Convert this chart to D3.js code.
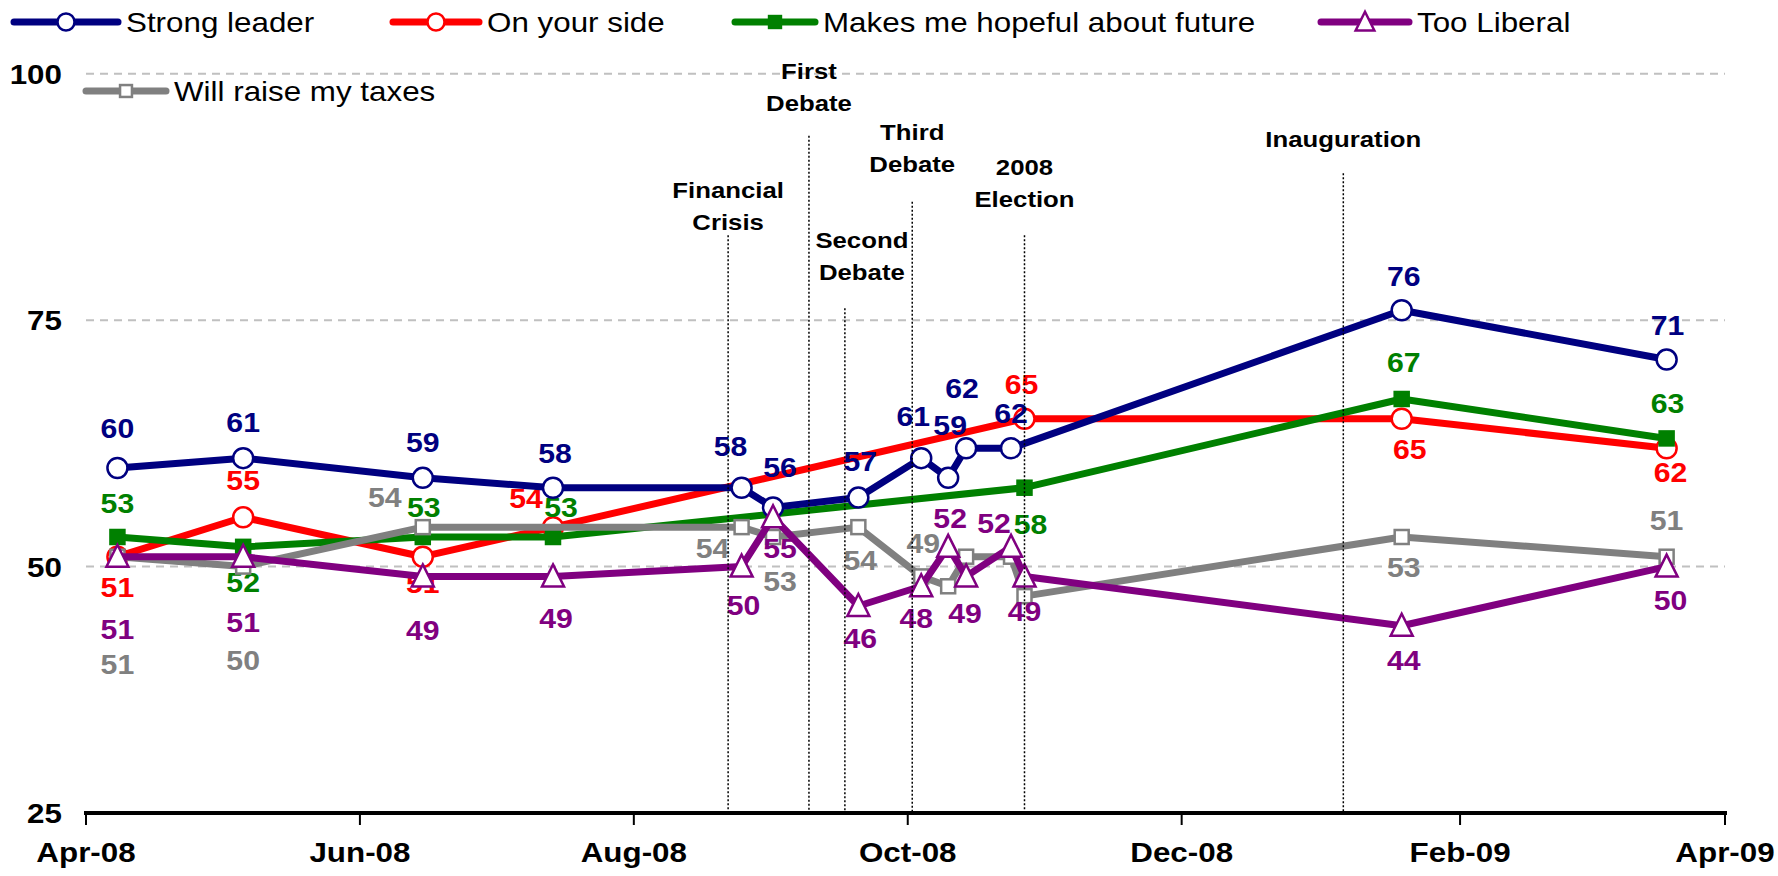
<!DOCTYPE html>
<html><head><meta charset="utf-8">
<script src="https://cdn.jsdelivr.net/npm/d3@7"></script>
<style>body{margin:0;background:#fff} svg{display:block}</style>
</head><body><svg id="chart" width="1778" height="876"></svg>
<script>
// ---------- DATA ----------
const dates = ["2008-04-08","2008-05-06","2008-06-15","2008-07-14","2008-08-25","2008-09-01","2008-09-20",
               "2008-10-04","2008-10-10","2008-10-14","2008-10-24","2008-10-27","2009-01-19","2009-03-19"];
const strongLeader = [60,61,59,58,58,56,57,61,59,62,62,null,76,71];
const onYourSide   = [51,55,51,54,null,null,null,null,null,null,null,65,65,62];
const hopeful      = [53,52,53,53,null,null,null,null,null,null,null,58,67,63];
const tooLiberal   = [51,51,49,49,50,55,46,48,52,49,52,49,44,50];
const raiseTaxes   = [51,50,54,null,54,53,54,49,48,51,51,47,53,51];
const seriesNames  = ["Strong leader","On your side","Makes me hopeful about future","Too Liberal","Will raise my taxes"];
const yTicks = [25,50,75,100];
const xTickDates  = ["2008-04-01","2008-06-01","2008-08-01","2008-10-01","2008-12-01","2009-02-01","2009-04-01"];
const xTickLabels = ["Apr-08","Jun-08","Aug-08","Oct-08","Dec-08","Feb-09","Apr-09"];
const eventNames = [["Financial","Crisis"],["First","Debate"],["Second","Debate"],["Third","Debate"],["2008","Election"],["Inauguration"]];
const eventDates = ["2008-08-22","2008-09-09","2008-09-17","2008-10-02","2008-10-27","2009-01-06"];
const eventTops  = [83.6,93.7,76.2,87.0,83.6,89.9];   // value where each dotted line starts
const eventLabelAt = [84.1,96.2,79.1,90.0,86.5,92.55]; // value of last label line baseline

// ---------- LAYOUT / STYLE ----------
const parse = d3.timeParse("%Y-%m-%d");
const W = 1778, H = 876;
const x = d3.scaleTime().domain([parse("2008-04-01"), parse("2009-04-01")]).range([86, 1725]);
const y = d3.scaleLinear().domain([25, 100]).range([813, 73.7]);
const SX = 1.12; // horizontal stretch of the original rendering
const FONT = "'Liberation Sans', Arial, sans-serif";

// label offsets (dx, dy of label centre from the point), kept apart from data
const lblNavy   = [[0,-40],[0,-36],[0,-36],[2,-35],[-11,-42],[7,-40],[2,-37],[-8,-42],[2,-53],[-4,-60],[0,-35],null,[2,-34],[1,-35]];
const lblRed    = [[0,30],[0,-37],[0,26],[-27,-29],null,null,null,null,null,null,null,[-3,-35],[8,30],[4,24]];
const lblGreen  = [[0,-34],[0,35],[1,-30],[8,-30],null,null,null,null,null,null,null,[6,36],[2,-37],[1,-35]];
const lblPurple = [[0,72],[0,65],[0,54],[3,42],[2,38],[7,31],[2,32],[-5,32],[2,-29],[-1,37],[-17,-24],[0,35],[2,34],[4,33]];
const lblGray   = [[0,107],[0,93],[-38,-30],null,[-29,21],[7,44],[2,33],[2,-33],null,null,null,null,[2,30],[0,-37]];

const series = [
  {name: seriesNames[0], values: strongLeader, color: "#000080", marker: "circle",   lbl: lblNavy},
  {name: seriesNames[1], values: onYourSide,   color: "#ff0000", marker: "circle",   lbl: lblRed},
  {name: seriesNames[2], values: hopeful,      color: "#008000", marker: "fsquare",  lbl: lblGreen},
  {name: seriesNames[3], values: tooLiberal,   color: "#800080", marker: "triangle", lbl: lblPurple},
  {name: seriesNames[4], values: raiseTaxes,   color: "#808080", marker: "square",   lbl: lblGray}
];
const drawOrder = [1, 2, 4, 0, 3];

const svg = d3.select("#chart");
svg.append("rect").attr("width", W).attr("height", H).attr("fill", "#fff");

function sText(g, px, py, str, opts) {
  return g.append("text")
    .attr("transform", `translate(${px},${py}) scale(${SX},1)`)
    .attr("text-anchor", opts.anchor || "middle")
    .attr("font-family", FONT)
    .attr("font-size", opts.size)
    .attr("font-weight", opts.weight || "normal")
    .attr("fill", opts.color || "#000")
    .text(str);
}

function drawMarker(g, type, cx, cy, color, s) {
  s = s || 1;
  if (type === "circle") {
    g.append("circle").attr("cx", cx).attr("cy", cy).attr("r", 10 * s)
      .attr("fill", "#fff").attr("stroke", color).attr("stroke-width", 2.5);
  } else if (type === "square" || type === "fsquare") {
    const h = 7 * s;
    g.append("rect").attr("x", cx - h).attr("y", cy - h).attr("width", 2 * h).attr("height", 2 * h)
      .attr("fill", type === "fsquare" ? color : "#fff").attr("stroke", color).attr("stroke-width", 2.5);
  } else if (type === "triangle") {
    const w = 11 * s, h = 10 * s;
    g.append("path").attr("d", `M${cx},${cy - h - 2*s}L${cx + w},${cy + h}L${cx - w},${cy + h}Z`)
      .attr("fill", "#fff").attr("stroke", color).attr("stroke-width", 2.5).attr("stroke-linejoin", "miter");
  }
}

// gridlines
const grid = svg.append("g");
grid.selectAll("line").data(yTicks.filter(t => t > 25)).join("line")
  .attr("x1", 86).attr("x2", 1725).attr("y1", d => y(d)).attr("y2", d => y(d))
  .attr("stroke", "#c0c0c0").attr("stroke-width", 2).attr("stroke-dasharray", "8,6");

// y labels
const yl = svg.append("g");
yTicks.forEach(t => sText(yl, 62, y(t) + 10, String(t), {anchor: "end", size: 28, weight: "bold"}));

// x axis
const xAxis = svg.append("g");
xAxis.append("line").attr("x1", 84).attr("x2", 1727).attr("y1", 813).attr("y2", 813)
  .attr("stroke", "#000").attr("stroke-width", 4);
xTickDates.forEach((d, i) => {
  const px = x(parse(d));
  xAxis.append("line").attr("x1", px).attr("x2", px).attr("y1", 813).attr("y2", 825)
    .attr("stroke", "#000").attr("stroke-width", 2);
  sText(xAxis, px, 862, xTickLabels[i], {size: 28, weight: "bold"});
});

// series: line, markers and labels, one series after another
const lineGen = d3.line().x(d => x(d.date)).y(d => y(d.v)).curve(d3.curveLinear);
drawOrder.forEach(si => {
  const s = series[si];
  const pts = dates.map((d, i) => ({date: parse(d), v: s.values[i], i})).filter(p => p.v != null);
  const g = svg.append("g");
  g.append("path").datum(pts).attr("d", lineGen).attr("fill", "none")
    .attr("stroke", s.color).attr("stroke-width", 7).attr("stroke-linejoin", "round");
  pts.forEach(p => drawMarker(g, s.marker, x(p.date), y(p.v), s.color));
  pts.forEach(p => {
    const o = s.lbl[p.i];
    if (!o) return;
    sText(g, x(p.date) + o[0], y(p.v) + o[1] + 10, String(p.v), {size: 27, weight: "bold", color: s.color});
  });
});

// event lines + labels
const ev = svg.append("g");
eventDates.forEach((d, i) => {
  const px = x(parse(d));
  ev.append("line").attr("x1", px).attr("x2", px).attr("y1", y(eventTops[i])).attr("y2", 811)
    .attr("stroke", "#000").attr("stroke-width", 1.5).attr("stroke-dasharray", "2,2");
  const lines = eventNames[i];
  const base = y(eventLabelAt[i]);
  const dx = i === 2 ? 17 : 0;
  lines.forEach((ln, k) => {
    sText(ev, px + dx, base - (lines.length - 1 - k) * 32, ln, {size: 23, weight: "bold"});
  });
});

// legend
const leg = svg.append("g");
const legendItems = [
  {si: 0, x1: 14,   x2: 118,  ly: 22},
  {si: 1, x1: 393,  x2: 479,  ly: 22},
  {si: 2, x1: 735,  x2: 815,  ly: 22},
  {si: 3, x1: 1321, x2: 1409, ly: 22},
  {si: 4, x1: 86,   x2: 166,  ly: 91}
];
legendItems.forEach(it => {
  const s = series[it.si];
  leg.append("line").attr("x1", it.x1).attr("x2", it.x2).attr("y1", it.ly).attr("y2", it.ly)
    .attr("stroke", s.color).attr("stroke-width", 7).attr("stroke-linecap", "round");
  drawMarker(leg, s.marker, (it.x1 + it.x2) / 2, it.ly, s.color, 0.85);
  sText(leg, it.x2 + 8, it.ly + 10, s.name, {anchor: "start", size: 28});
});
</script></body></html>
